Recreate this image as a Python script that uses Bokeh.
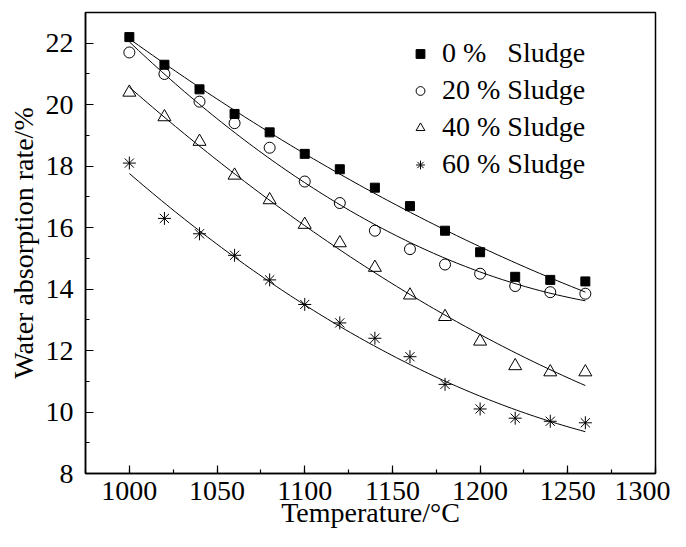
import numpy as np
from bokeh.plotting import figure
from bokeh.models import Range1d, SingleIntervalTicker, Legend, LegendItem
from bokeh.embed import file_html
from bokeh.resources import INLINE

temperature = [1000, 1020, 1040, 1060, 1080, 1100, 1120, 1140, 1160, 1180, 1200, 1220, 1240, 1260]
sludge_0 = [22.2, 21.3, 20.5, 19.7, 19.1, 18.4, 17.9, 17.3, 16.7, 15.9, 15.2, 14.4, 14.3, 14.25]
sludge_20 = [21.7, 21.0, 20.1, 19.4, 18.6, 17.5, 16.8, 15.9, 15.3, 14.8, 14.5, 14.1, 13.9, 13.85]
sludge_40 = [20.4, 19.6, 18.8, 17.7, 16.9, 16.1, 15.5, 14.7, 13.8, 13.1, 12.3, 11.5, 11.3, 11.3]
sludge_60 = [18.1, 16.3, 15.8, 15.1, 14.3, 13.5, 12.9, 12.4, 11.8, 10.9, 10.1, 9.8, 9.7, 9.65]
labels = ["0 %\u00a0\u00a0\u00a0Sludge", "20 % Sludge", "40 % Sludge", "60 % Sludge"]
markers = ["square", "circle", "triangle", "asterisk"]

FONT = "Liberation Serif"

p = figure(width=670, height=531, output_backend="svg", toolbar_location=None,
           x_range=Range1d(975, 1300), y_range=Range1d(8, 23),
           min_border_left=85, min_border_right=15, min_border_top=12, min_border_bottom=58)
p.grid.visible = False
p.outline_line_color = "black"
p.outline_line_width = 1.5
p.background_fill_color = "white"
p.border_fill_color = "white"

p.xaxis.ticker = SingleIntervalTicker(interval=50, num_minor_ticks=2)
p.yaxis.ticker = SingleIntervalTicker(interval=2, num_minor_ticks=2)
for ax in (p.xaxis, p.yaxis):
    ax.major_tick_in = 8
    ax.major_tick_out = 0
    ax.minor_tick_in = 4
    ax.minor_tick_out = 0
    ax.axis_line_width = 1.5
    ax.axis_line_color = "black"
    ax.major_tick_line_color = "black"
    ax.minor_tick_line_color = "black"
    ax.major_tick_line_width = 1.2
    ax.minor_tick_line_width = 1.2
    ax.major_label_text_font = FONT
    ax.major_label_text_font_size = "28px"
    ax.major_label_text_color = "black"
    ax.axis_label_text_font = FONT
    ax.axis_label_text_font_size = "28px"
    ax.axis_label_text_font_style = "normal"
    ax.axis_label_text_color = "black"
p.xaxis.axis_label = "Temperature/°C"
p.yaxis.axis_label = "Water absorption rate/%"
p.xaxis.major_label_standoff = 8
p.yaxis.major_label_standoff = 12
p.xaxis.axis_label_standoff = -6
p.yaxis.axis_label_standoff = 4

series = [sludge_0, sludge_20, sludge_40, sludge_60]
sizes = [9, 11, 13, 13]
items = []
xs = np.linspace(temperature[0], temperature[-1], 100)
for vals, mk, sz, lab in zip(series, markers, sizes, labels):
    coef = np.polyfit(temperature, vals, 2)
    p.line(xs, np.polyval(coef, xs), line_color="black", line_width=1)
    fill = "black" if mk == "square" else None
    r = p.scatter(temperature, vals, marker=mk, size=sz, line_color="black",
                  fill_color=fill, line_width=1)
    items.append(LegendItem(label=lab, renderers=[r]))

legend = Legend(items=items, location=(324, 293), label_text_font=FONT,
                label_text_font_size="28px", label_text_color="black",
                glyph_width=22, glyph_height=31, label_height=31, spacing=5,
                label_standoff=11, padding=0, margin=0,
                border_line_color=None, background_fill_alpha=0)
p.add_layout(legend)

open("out.html", "w").write(file_html(p, INLINE))
